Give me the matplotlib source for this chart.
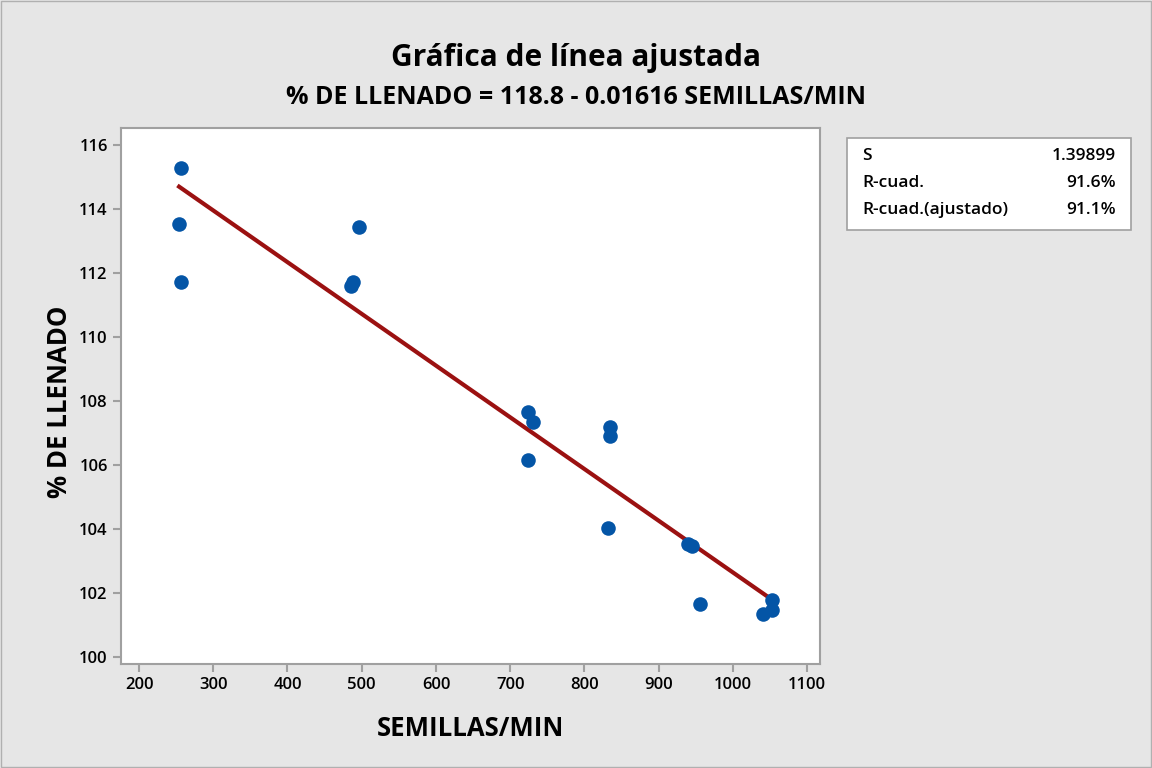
import matplotlib
matplotlib.use("Agg")
import matplotlib.pyplot as plt
from matplotlib.patches import Rectangle

plt.rcParams['font.family'] = ['Open Sans', 'DejaVu Sans']

# data
semillas = [257, 254, 257, 496, 488, 486, 724, 731, 724, 834, 834, 831,
            940, 945, 955, 1053, 1053, 1041]
llenado = [115.28, 113.53, 111.72, 113.44, 111.72, 111.60, 107.65, 107.33,
           106.16, 107.18, 106.89, 104.02, 103.52, 103.48, 101.66, 101.78,
           101.47, 101.33]

b0 = 118.8
b1 = -0.01616

stat_names = ["S", "R-cuad.", "R-cuad.(ajustado)"]
stat_values = ["1.39899", "91.6%", "91.1%"]

bg = "#e6e6e6"
fig = plt.figure(figsize=(11.52, 7.68), dpi=100, facecolor=bg)
fig.patches.append(Rectangle((0.001, 0.001), 0.998, 0.998, transform=fig.transFigure,
                             fill=False, edgecolor="#b0b0b0", lw=1))
ax = fig.add_axes([0.105, 0.1354, 0.607, 0.698])
ax.set_facecolor("white")

xs = [min(semillas), max(semillas)]
ax.plot(xs, [b0 + b1 * x for x in xs], color="#9b1111", lw=3, zorder=2)
ax.scatter(semillas, llenado, s=110, color="#0455a6", zorder=3, linewidths=0)

ax.set_xlim(175.7, 1117.5)
ax.set_ylim(99.78, 116.53)
ax.set_xticks(range(200, 1101, 100))
ax.set_yticks(range(100, 117, 2))
for s in ax.spines.values():
    s.set_color("#a0a0a0")
    s.set_linewidth(1.5)
ax.tick_params(direction="out", length=6, width=1.5, color="#a0a0a0",
               labelsize=12, labelcolor="black")
for lab in ax.get_xticklabels() + ax.get_yticklabels():
    lab.set_fontweight("semibold")

ax.set_xlabel("SEMILLAS/MIN", fontsize=18.5, fontweight="bold", labelpad=16)
ax.set_ylabel("% DE LLENADO", fontsize=18.5, fontweight="bold")
ax.yaxis.set_label_coords(-0.069, 0.489)

fig.text(0.5, 0.925, "Gráfica de línea ajustada", ha="center", va="center",
         fontsize=21.5, fontweight="bold")
fig.text(0.5, 0.873, "% DE LLENADO = 118.8 - 0.01616 SEMILLAS/MIN", ha="center",
         va="center", fontsize=18, fontweight="bold")

# stats box
bx0, bx1 = 847 / 1152, 1131 / 1152
by0, by1 = 1 - 230 / 768, 1 - 138 / 768
fig.patches.append(Rectangle((bx0, by0), bx1 - bx0, by1 - by0, transform=fig.transFigure,
                             facecolor="white", edgecolor="#a0a0a0", lw=1.2))
for i, (n, v) in enumerate(zip(stat_names, stat_values)):
    yy = 1 - (156 + i * 27) / 768
    fig.text(862 / 1152, yy, n, ha="left", va="center", fontsize=12.5, fontweight="semibold")
    fig.text(1116 / 1152, yy, v, ha="right", va="center", fontsize=12.5, fontweight="semibold")

fig.savefig("out.png", dpi=100, facecolor=bg)
